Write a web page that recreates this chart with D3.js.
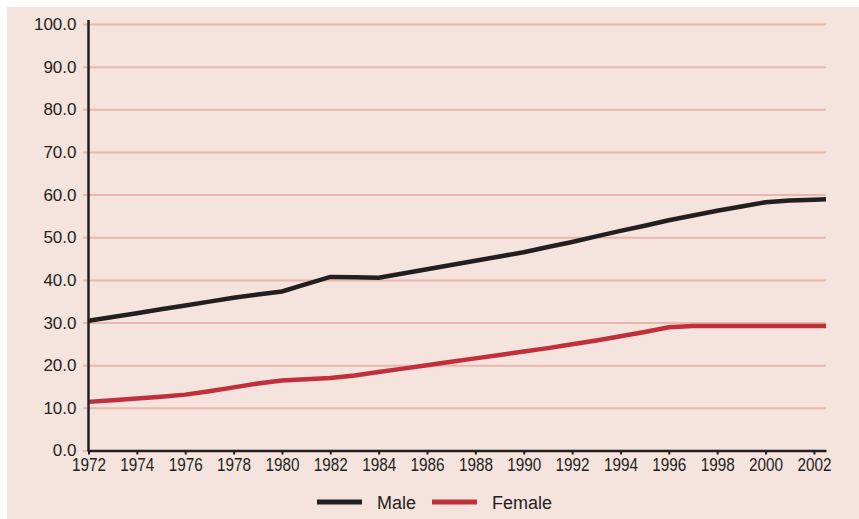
<!DOCTYPE html>
<html>
<head>
<meta charset="utf-8">
<script src="https://cdn.jsdelivr.net/npm/d3@7"></script>
<style>
  body { margin: 0; background: #ffffff; }
  svg text { font-family: "Liberation Sans", Arial, sans-serif; fill: #231f20; }
</style>
</head>
<body>
<div id="chart"></div>
<script>
var years = [1972, 1973, 1974, 1975, 1976, 1977, 1978, 1979, 1980, 1981, 1982, 1983, 1984, 1985, 1986, 1987,
  1988, 1989, 1990, 1991, 1992, 1993, 1994, 1995, 1996, 1997, 1998, 1999, 2000, 2001, 2002, 2003];
var male = [30.4, 31.3, 32.2, 33.1, 34.0, 34.9, 35.8, 36.6, 37.3, 39.0, 40.7, 40.6, 40.5, 41.5, 42.5, 43.5,
  44.5, 45.5, 46.5, 47.7, 48.9, 50.2, 51.5, 52.7, 54.0, 55.1, 56.2, 57.2, 58.2, 58.6, 58.8, 59.0];
var female = [11.4, 11.8, 12.2, 12.6, 13.1, 13.9, 14.8, 15.7, 16.4, 16.7, 17.0, 17.6, 18.4, 19.2, 20.0, 20.8,
  21.6, 22.4, 23.2, 24.0, 24.9, 25.8, 26.8, 27.8, 28.9, 29.2, 29.2, 29.2, 29.2, 29.2, 29.2, 29.2];
var xTicks = [1972, 1974, 1976, 1978, 1980, 1982, 1984, 1986, 1988, 1990, 1992, 1994, 1996, 1998, 2000, 2002];
var yTicks = [0, 10, 20, 30, 40, 50, 60, 70, 80, 90, 100];
var seriesNames = ["Male", "Female"];
var seriesColors = ["#231f20", "#c1303a"];

var W = 859, H = 519;
var plotLeft = 88.5, plotRight = 826, plotTop = 24, plotBottom = 450.5;

var svg = d3.select("#chart").append("svg")
    .attr("width", W)
    .attr("height", H);

// pink panel
svg.append("rect")
    .attr("x", 7).attr("y", 7)
    .attr("width", W - 7).attr("height", H - 7)
    .attr("fill", "#f5e3dd");

var x = d3.scaleLinear().domain([1972, 2002.5]).range([plotLeft, plotRight]);
var y = d3.scaleLinear().domain([0, 100]).range([plotBottom, plotTop]);

// gridlines (also act as the small left ticks)
var grid = svg.append("g")
    .attr("transform", "translate(" + plotRight + ",0)")
    .call(d3.axisLeft(y).tickValues(yTicks).tickSize(plotRight - 83).tickFormat(""));
grid.select(".domain").remove();
grid.selectAll("line").attr("stroke", "#eab8aa").attr("stroke-width", 2);

// y labels
var yAx = svg.append("g")
    .attr("transform", "translate(" + plotLeft + ",0)")
    .call(d3.axisLeft(y).tickValues(yTicks).tickSize(0).tickPadding(12).tickFormat(d3.format(".1f")));
yAx.select(".domain").remove();
yAx.selectAll("text").style("font-size", "17px").attr("fill", "#231f20");

// lines
svg.append("clipPath").attr("id", "plotclip")
  .append("rect").attr("x", plotLeft).attr("y", 0).attr("width", plotRight - plotLeft).attr("height", H);

var line = d3.line()
    .x(function (d, i) { return x(years[i]); })
    .y(function (d) { return y(d); });

var lines = svg.append("g").attr("clip-path", "url(#plotclip)");
[male, female].forEach(function (s, k) {
  lines.append("path")
      .attr("d", line(s))
      .attr("fill", "none")
      .attr("stroke", seriesColors[k])
      .attr("stroke-width", 4.5);
});

// x axis
var xAx = svg.append("g")
    .attr("transform", "translate(0," + plotBottom + ")")
    .call(d3.axisBottom(x).tickValues(xTicks).tickSizeInner(4).tickSizeOuter(0).tickPadding(4)
      .tickFormat(d3.format("d")));
xAx.select(".domain").attr("stroke", "#231f20").attr("stroke-width", 2.5);
xAx.selectAll("line").attr("stroke", "#231f20").attr("stroke-width", 2);
xAx.selectAll("text").style("font-size", "18px").attr("fill", "#231f20")
    .attr("transform", "scale(0.85,1)");

// y axis line
svg.append("line")
    .attr("x1", plotLeft).attr("x2", plotLeft)
    .attr("y1", y(100) - 4).attr("y2", plotBottom + 1)
    .attr("stroke", "#231f20")
    .attr("stroke-width", 2.5);

// legend
var legend = svg.append("g").attr("transform", "translate(0,502)");
var legX = [317, 432];
seriesNames.forEach(function (name, k) {
  legend.append("line")
      .attr("x1", legX[k]).attr("x2", legX[k] + 45)
      .attr("y1", 0).attr("y2", 0)
      .attr("stroke", seriesColors[k])
      .attr("stroke-width", 5);
  legend.append("text")
      .attr("x", legX[k] + 60)
      .attr("y", 7)
      .style("font-size", "18px")
      .text(name);
});
</script>
</body>
</html>
